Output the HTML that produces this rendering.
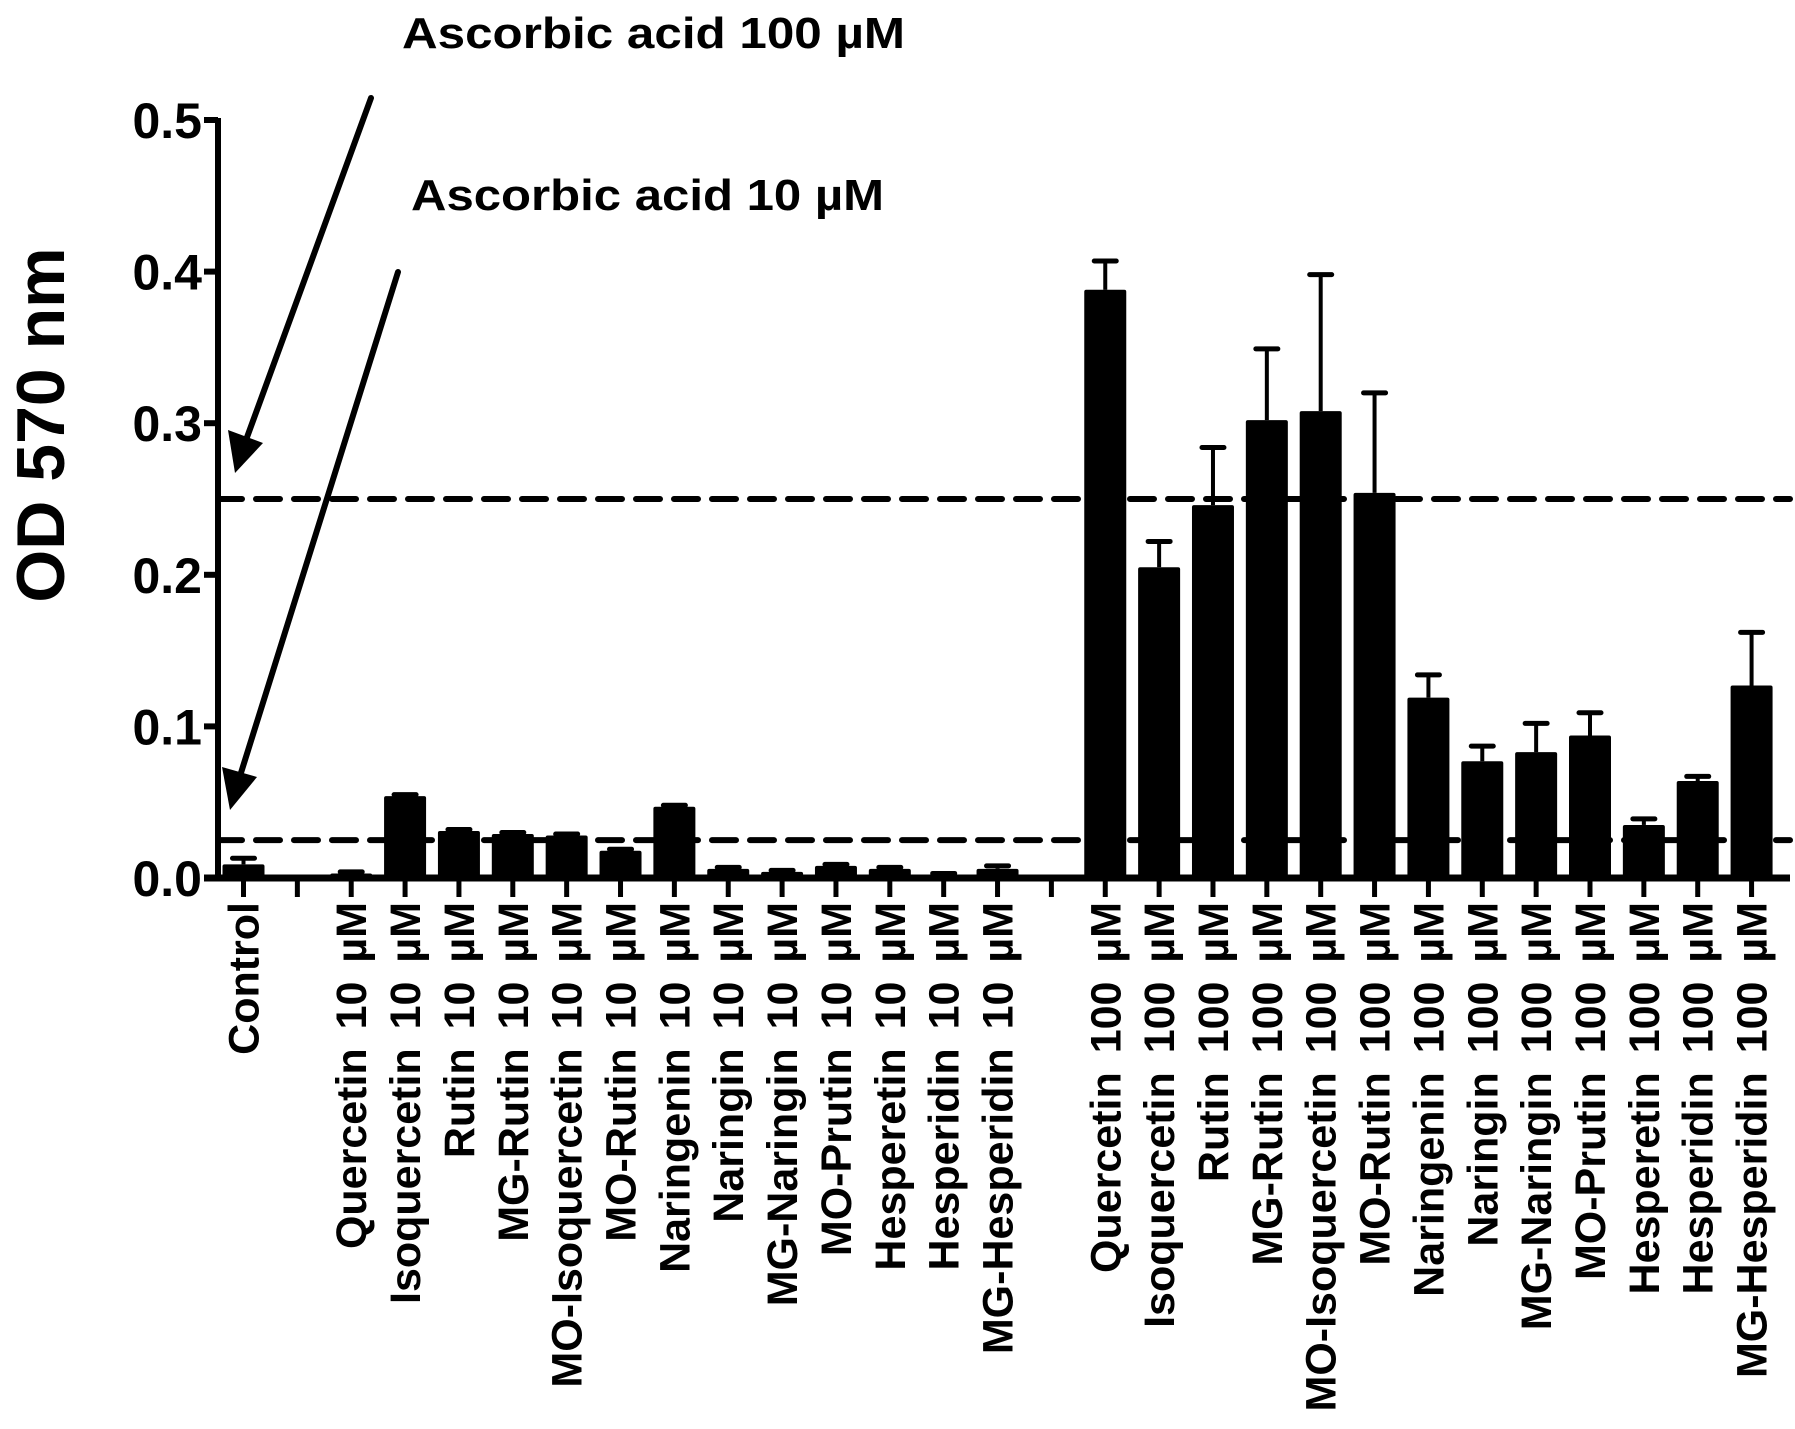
<!DOCTYPE html>
<html><head><meta charset="utf-8"><style>
html,body{margin:0;padding:0;background:#fff;}
svg{display:block;font-family:"Liberation Sans",Arial,sans-serif;font-weight:bold;}
</style></head><body>
<svg id="chart" width="1795" height="1429" viewBox="0 0 1795 1429" xmlns="http://www.w3.org/2000/svg">
<g id="annot">
<text x="402" y="48" font-size="44" textLength="503" lengthAdjust="spacingAndGlyphs">Ascorbic acid 100 µM</text>
<text x="411" y="210" font-size="44" textLength="473" lengthAdjust="spacingAndGlyphs">Ascorbic acid 10 µM</text>
<line x1="371" y1="98" x2="246" y2="440" stroke="#000" stroke-width="6" stroke-linecap="round"/>
<polygon points="235,473 228,430 263,443" fill="#000"/>
<line x1="398" y1="272" x2="240" y2="776" stroke="#000" stroke-width="6" stroke-linecap="round"/>
<polygon points="230,810 222,767 257,777" fill="#000"/>
</g>
<text transform="translate(64,425) rotate(-90)" text-anchor="middle" font-size="68">OD 570 nm</text>
<g id="plot"></g>
</svg>
<script>
const categories = ["Control","",
"Quercetin 10 µM","Isoquercetin 10 µM","Rutin 10 µM","MG-Rutin 10 µM","MO-Isoquercetin 10 µM","MO-Rutin 10 µM","Naringenin 10 µM","Naringin 10 µM","MG-Naringin 10 µM","MO-Prutin 10 µM","Hesperetin 10 µM","Hesperidin 10 µM","MG-Hesperidin 10 µM","",
"Quercetin 100 µM","Isoquercetin 100 µM","Rutin 100 µM","MG-Rutin 100 µM","MO-Isoquercetin 100 µM","MO-Rutin 100 µM","Naringenin 100 µM","Naringin 100 µM","MG-Naringin 100 µM","MO-Prutin 100 µM","Hesperetin 100 µM","Hesperidin 100 µM","MG-Hesperidin 100 µM"];
const means = [0.009,null,
0.003,0.054,0.031,0.029,0.028,0.018,0.047,0.006,0.004,0.008,0.006,0.002,0.006,null,
0.388,0.205,0.246,0.302,0.308,0.254,0.119,0.077,0.083,0.094,0.035,0.064,0.127];
const errTops = [0.013,null,
0.004,0.055,0.032,0.030,0.029,0.019,0.048,0.007,0.005,0.009,0.007,0.003,0.008,null,
0.407,0.222,0.284,0.349,0.398,0.320,0.134,0.087,0.102,0.109,0.039,0.067,0.162];
const yTicks = [0,0.1,0.2,0.3,0.4,0.5];
const yTickLabels = ["0.0","0.1","0.2","0.3","0.4","0.5"];
const refLines = [0.25,0.025];

const NS="http://www.w3.org/2000/svg";
const g=document.getElementById('plot');
const X0=218, XEND=1790, Y0=878, YPER=1516;
const slot0=243.5, slotW=53.86, barW=42;
function y(v){return Y0 - v*YPER;}
function x(i){return slot0 + i*slotW;}
function el(t,a){const e=document.createElementNS(NS,t);for(const k in a)e.setAttribute(k,a[k]);g.appendChild(e);return e;}

refLines.forEach((v,i)=>{
  const l=el('line',{x1:X0,x2:XEND,y1:y(v),y2:y(v),stroke:'#000','stroke-width':6,'stroke-dasharray':'24 14','stroke-linecap':'round'});
  
  
});

means.forEach((m,i)=>{
  if(m===null) return;
  const cx=x(i);
  const e=errTops[i];
  const ev=el('line',{x1:cx,x2:cx,y1:y(e),y2:y(m),stroke:'#000','stroke-width':4});
  
  
  const ec=el('line',{x1:cx-11,x2:cx+11,y1:y(e),y2:y(e),stroke:'#000','stroke-width':5,'stroke-linecap':'round'});
  
  
  const b=el('rect',{x:cx-barW/2,y:y(m),width:barW,height:Math.max(1,Y0-y(m)),fill:'#000',rx:2});
  
  
});

const ya=el('line',{x1:X0,x2:X0,y1:y(0.5)-2,y2:Y0+3,stroke:'#000','stroke-width':6});


const xa=el('line',{x1:X0-14,x2:XEND,y1:Y0,y2:Y0,stroke:'#000','stroke-width':7});



yTicks.forEach((v,i)=>{
  const t=el('line',{x1:X0-14,x2:X0,y1:y(v),y2:y(v),stroke:'#000','stroke-width':6});
  
  
  const tx=el('text',{x:X0-16,y:y(v)+18,'text-anchor':'end','font-size':50});
  tx.textContent=yTickLabels[i];
  
  
});

categories.forEach((c,i)=>{
  const cx=x(i);
  const t=el('line',{x1:cx,x2:cx,y1:Y0,y2:Y0+19,stroke:'#000','stroke-width':5});
  
  
  if(!c) return;
  const tx=el('text',{transform:`translate(${cx+15},902) rotate(-90)`,'text-anchor':'end','font-size':43,'word-spacing':'7'});
  tx.textContent=c;
  
  
});
</script>
</body></html>
